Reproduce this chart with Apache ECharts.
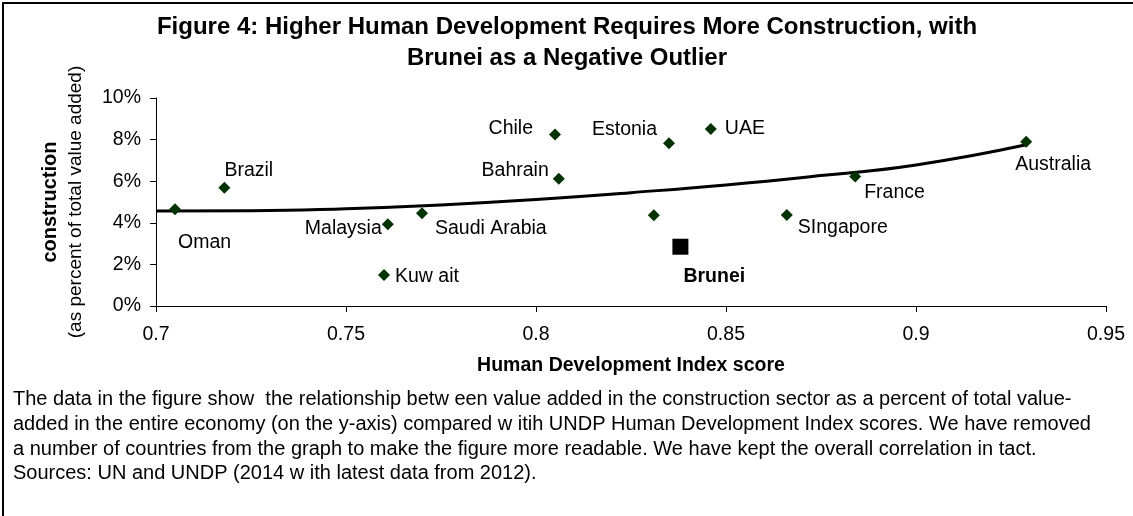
<!DOCTYPE html>
<html>
<head>
<meta charset="utf-8">
<script src="https://cdn.jsdelivr.net/npm/echarts@6/dist/echarts.min.js"></script>
<style>
html,body{margin:0;padding:0;background:#fff;}
#chart{width:1133px;height:516px;}
</style>
</head>
<body>
<div id="chart"></div>
<script>
// ---- data ----
var countries = ['Oman','Brazil','Malaysia','Kuw ait','Saudi Arabia','Chile','Bahrain','','Estonia','UAE','SIngapore','France','Australia'];
var hdi       = [0.705, 0.718, 0.761, 0.760, 0.770, 0.805, 0.806, 0.831, 0.835, 0.846, 0.866, 0.884, 0.929];
var construction = [4.65, 5.69, 3.93, 1.49, 4.46, 8.25, 6.12, 4.36, 7.82, 8.51, 4.37, 6.22, 7.90];
var outlierName = 'Brunei';
var outlierHdi = 0.838;
var outlierValue = 2.85;
var trendHdi   = [0.700, 0.725, 0.750, 0.775, 0.800, 0.825, 0.850, 0.875, 0.900, 0.929];
var trendValue = [4.57, 4.58, 4.68, 4.86, 5.12, 5.45, 5.82, 6.27, 6.78, 7.75];
var xTicks = [0.7, 0.75, 0.8, 0.85, 0.9, 0.95];
var yTicks = [0, 2, 4, 6, 8, 10];
var titleLines = ['Figure 4: Higher Human Development Requires More Construction, with', 'Brunei as a Negative Outlier'];
var captionLines = [
  'The data in the figure show  the relationship betw een value added in the construction sector as a percent of total value-',
  'added in the entire economy (on the y-axis) compared w itih UNDP Human Development Index scores. We have removed',
  'a number of countries from the graph to make the figure more readable. We have kept the overall correlation in tact.',
  'Sources: UN and UNDP (2014 w ith latest data from 2012).'
];

// ---- label placement (style) ----
var place = {
  'Oman':        {align:'left',  dx:3,   dy:33},
  'Brazil':      {align:'left',  dx:0,   dy:-17},
  'Malaysia':    {align:'right', dx:-6,  dy:4},
  'Kuw ait':     {align:'left',  dx:11,  dy:2},
  'Saudi Arabia':{align:'left',  dx:13,  dy:15},
  'Chile':       {align:'right', dx:-22, dy:-6},
  'Bahrain':     {align:'right', dx:-10, dy:-8},
  '':            {align:'left',  dx:0,   dy:0},
  'Estonia':     {align:'right', dx:-12, dy:-14},
  'UAE':         {align:'left',  dx:14,  dy:0},
  'SIngapore':   {align:'left',  dx:11,  dy:13},
  'France':      {align:'left',  dx:9,   dy:16},
  'Australia':   {align:'left',  dx:-11, dy:23}
};

var FONT = "'Liberation Sans', Arial, sans-serif";
var LBL = 19.5;
var pts = countries.map(function(c,i){
  var p = place[c];
  return {
    value:[hdi[i], construction[i]], name:c,
    label:{show:c!=='', formatter:c, position:'inside', align:p.align, verticalAlign:'middle', offset:[p.dx,p.dy]}
  };
});
var trend = trendHdi.map(function(x,i){return [x, trendValue[i]];});

var chart = echarts.init(document.getElementById('chart'), null, {renderer:'canvas'});
var axisLine = {show:true, lineStyle:{color:'#000', width:1}};
chart.setOption({
  animation:false,
  backgroundColor:'#fff',
  textStyle:{fontFamily:FONT},
  grid:{left:156, right:27, top:98, bottom:210, containLabel:false},
  xAxis:{
    type:'value', min:xTicks[0], max:xTicks[xTicks.length-1], interval:0.05,
    axisLine:axisLine, axisTick:{show:true, length:6, lineStyle:{color:'#000'}},
    splitLine:{show:false},
    axisLabel:{color:'#000', fontSize:LBL, fontFamily:FONT, margin:19,
      formatter:function(v){return String(Math.round(v*100)/100);}},
    name:'Human Development Index score', nameLocation:'middle', nameGap:50,
    nameTextStyle:{color:'#000', fontSize:19.5, fontWeight:'bold', fontFamily:FONT}
  },
  yAxis:{
    type:'value', min:yTicks[0], max:yTicks[yTicks.length-1], interval:2,
    axisLine:axisLine, axisTick:{show:true, length:6, lineStyle:{color:'#000'}},
    splitLine:{show:false},
    axisLabel:{color:'#000', fontSize:LBL, fontFamily:FONT, margin:15, formatter:'{value}%'},
    name:'{b|construction}\n{n|(as percent of total value added)}', nameLocation:'middle', nameGap:68,
    nameTextStyle:{color:'#000', fontFamily:FONT, align:'center',
      rich:{b:{fontSize:20, fontWeight:'bold', fontFamily:FONT, color:'#000', lineHeight:25},
            n:{fontSize:19, fontFamily:FONT, color:'#000', lineHeight:25}}}
  },
  series:[
    {type:'line', data:trend, smooth:true, showSymbol:false, symbol:'none',
      lineStyle:{color:'#000', width:3}, z:2, silent:true},
    {type:'scatter', data:pts, symbol:'diamond', symbolSize:12,
      itemStyle:{color:'#003300', opacity:1}, z:3,
      label:{color:'#000', fontSize:LBL, fontFamily:FONT}},
    {type:'scatter', data:[{value:[outlierHdi, outlierValue], name:outlierName}], symbol:'rect', symbolSize:16,
      itemStyle:{color:'#000', opacity:1}, z:3,
      label:{show:true, formatter:outlierName, position:'inside', align:'left', verticalAlign:'middle', offset:[3,30],
        color:'#000', fontSize:LBL, fontWeight:'bold', fontFamily:FONT}}
  ],
  graphic:[
    {type:'rect', shape:{x:3, y:3, width:1140, height:530}, style:{fill:null, stroke:'#000', lineWidth:2}, silent:true},
    {type:'text', x:567, y:27, style:{text:titleLines[0], font:'bold 24px '+FONT, fill:'#000', textAlign:'center', textVerticalAlign:'middle'}},
    {type:'text', x:567, y:58, style:{text:titleLines[1], font:'bold 24px '+FONT, fill:'#000', textAlign:'center', textVerticalAlign:'middle'}},
    {type:'text', x:13, y:399, style:{text:captionLines[0], font:'20px '+FONT, fill:'#000', textVerticalAlign:'middle'}},
    {type:'text', x:13, y:424, style:{text:captionLines[1], font:'20px '+FONT, fill:'#000', textVerticalAlign:'middle'}},
    {type:'text', x:13, y:449, style:{text:captionLines[2], font:'20px '+FONT, fill:'#000', textVerticalAlign:'middle'}},
    {type:'text', x:13, y:473, style:{text:captionLines[3], font:'20px '+FONT, fill:'#000', textVerticalAlign:'middle'}}
  ]
});
</script>
</body>
</html>
